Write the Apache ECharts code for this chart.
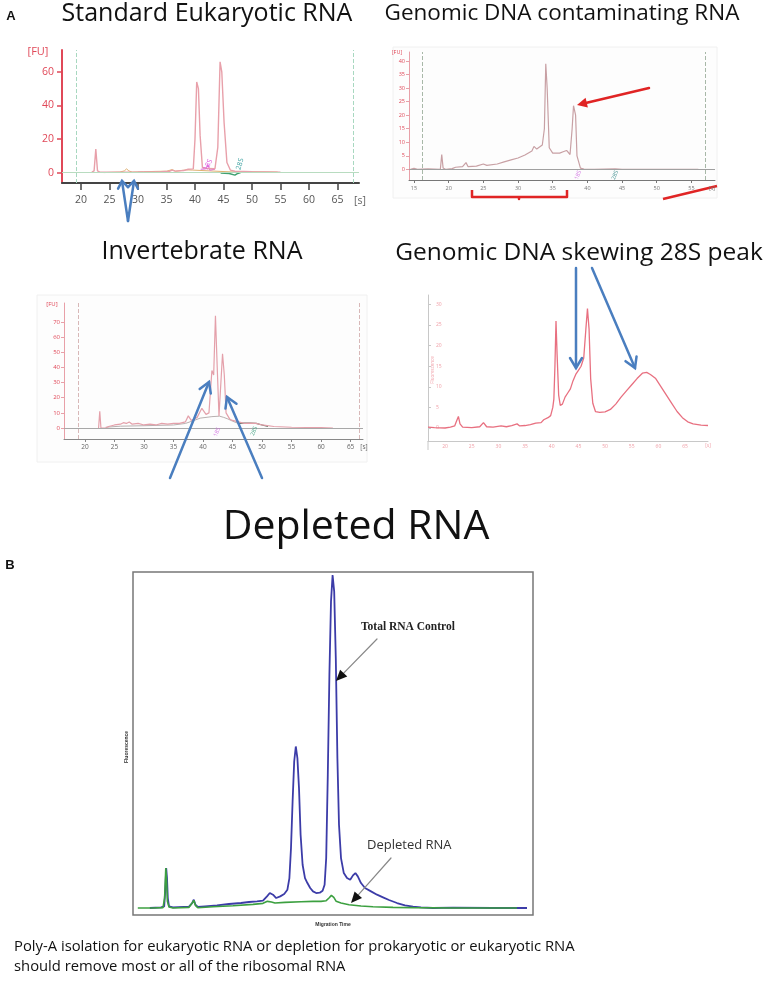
<!DOCTYPE html>
<html><head><meta charset="utf-8">
<script src="https://cdn.jsdelivr.net/npm/echarts@6/dist/echarts.min.js"></script>
<style>html,body{margin:0;padding:0;background:#fff}#c{width:767px;height:984px}</style>
</head><body><div id="c"></div>
<script>
// ---------- DATA ----------
// Panel A1: Standard Eukaryotic RNA
const p1XTicks = [20,25,30,35,40,45,50,55,60,65];
const p1YTicks = [0,20,40,60];
const p1Rna = [[21.9,0.3],[22.3,1],[22.6,14],[22.9,1],[23.3,0.3],[25,0.3],[30,0.4],[34,0.6],[35.5,0.8],[36,1.5],[36.5,0.9],[38,1.2],[38.8,2],[39.7,2.2],[40.0,20],[40.3,54],[40.6,50],[40.9,22],[41.3,3],[42,2.4],[43.5,2.3],[44.0,15],[44.4,66],[44.7,60],[45.1,30],[45.6,6],[46.2,1.5],[47,0.8],[50,0.5],[55,0.3]];
const p1Marker = [[24,0],[26.8,0.3],[27.6,1],[28,2.2],[28.4,1],[29,0.3],[31,0.5],[33,0.7],[35,0.8],[36,1.8],[36.6,0.8],[38.5,1.6],[39.5,1.5],[47,0.3],[50,0.5],[54.5,0.3]];
const p1Lower = [[41,2],[41.8,2.2],[42.3,4.5],[42.6,1.5],[43.5,2]];
const p1Upper = [[44.5,-0.3],[46,-0.5],[47,-1.5],[47.5,-0.5],[48,0]];
const p1Dashed = [19.1, 67.7];

// Panel A2: Genomic DNA contaminating RNA
const p2XTicks = [15,20,25,30,35,40,45,50,55];
const p2YTicks = [0,5,10,15,20,25,30,35,40];
const p2Trace = [[14.5,0],[15,0.4],[15.5,0],[17,0.2],[18.8,0],[19,5.5],[19.2,0.5],[19.6,0],[20.5,0.3],[21,0.8],[22,1],[22.5,2.5],[22.8,1],[24,1.2],[25,2],[25.5,1.5],[27,2],[28,2.8],[29,3.5],[30,4.2],[31,5.3],[32,6.8],[32.3,8.5],[32.7,7.5],[33.5,9],[33.8,15],[34,39],[34.2,30],[34.5,8],[35,6],[36,6],[36.5,6.5],[37,7],[37.5,5.5],[37.8,15],[38,23.5],[38.3,20],[38.5,5],[39,0.5],[39.5,0.1],[41,0],[44,0.2],[45,0],[56,0]];
const p2Dashed = [16.2, 57];

// Panel A3: Invertebrate RNA
const p3XTicks = [20,25,30,35,40,45,50,55,60,65];
const p3YTicks = [0,10,20,30,40,50,60,70];
const p3Trace = [[22.3,0],[22.5,11],[22.7,0],[23.5,0],[24,1],[25,2],[26,2.5],[26.5,3.5],[27,3],[27.5,4],[28,2.5],[29,3],[30,2],[31,2.5],[32,2],[33,3],[34,2.5],[35,3],[36,3],[37,4],[37.5,8],[38,5],[39,7],[39.8,13],[40.5,9],[41,10],[41.5,38],[41.8,35],[42.1,74],[42.4,40],[42.7,8],[43,9],[43.3,49],[43.6,35],[43.9,10],[44.5,6],[45,5],[46,4],[47,3],[48,3.2],[49,3],[50,2],[52,1],[55,0.5],[60,0.3],[62,0]];
const p3Second = [[23.5,0.5],[26,1.2],[30,1.5],[35,2],[37,3],[38.5,5],[39.5,6.5],[40.5,7],[41.5,7.5],[42.8,7.8],[43.5,7],[44.2,6],[45,4.5],[46,3]];
const p3Late = [[46,3],[47,3.2],[48,3.3],[49,3],[50,2],[51,1]];
const p3Dashed = [18.8, 66.5];

// Panel A4: Genomic DNA skewing 28S peak
const p4XTicks = [20,25,30,35,40,45,50,55,60,65];
const p4YTicks = [0,5,10,15,20,25,30];
const p4Trace = [[16.8,0.2],[18,0.1],[20,0],[21,0.2],[21.8,0.5],[22.1,1.5],[22.5,2.8],[22.8,1],[23.3,0.2],[25,0.1],[26.5,0.3],[27.2,1.3],[27.8,0.3],[29,0.2],[30.5,0.5],[31.5,0.3],[32.5,0.6],[33.5,1],[34,0.5],[35,0.6],[36,0.8],[37,1.2],[38,1.3],[38.5,2],[39.3,2.5],[39.8,3],[40.2,5],[40.4,7],[40.6,15],[40.8,26],[41,18],[41.3,8],[41.6,5.5],[42,5.8],[42.5,7.5],[43,8.5],[43.5,9.5],[44,11.5],[44.5,13],[45,14],[45.5,15],[46,17],[46.4,24],[46.7,29],[47,24],[47.3,12],[47.7,6],[48.2,4],[49,3.8],[50,3.9],[51,4.5],[52,5.8],[53,7.5],[54,9],[55,10.5],[56,12],[57,13.3],[57.8,13.5],[58.5,13],[59.5,12],[60.5,10],[61.5,8],[62.5,6],[63.5,4],[64.5,2.5],[65.5,1.5],[66.5,1],[68,0.7],[69.3,0.6]];

// Panel B: Depleted RNA (relative migration time 0-100, relative fluorescence 0-100)
const bTotalRna = [[4.2,0],[7,0.2],[7.8,0.5],[8.1,6],[8.3,12],[8.5,9],[8.7,3],[9,0.5],[10,0.2],[14,0.4],[14.8,1.5],[15.2,2.5],[15.6,1],[16.2,0.3],[18,0.5],[21,0.8],[24,1.2],[27,1.5],[29,1.8],[31,2],[32.5,2.2],[33.5,3.5],[34.2,4.5],[35,4],[35.8,3],[36.8,3.5],[37.8,4.2],[38.6,5.5],[39.1,9],[39.5,18],[39.9,32],[40.3,44],[40.7,48.5],[41.1,45],[41.5,36],[41.9,22],[42.4,13],[43,9],[43.6,7.5],[44.3,6],[45,5],[45.8,4.5],[46.7,4.6],[47.4,5.2],[47.9,7],[48.3,15],[48.7,40],[49.1,70],[49.5,92],[49.9,100],[50.3,95],[50.7,75],[51.1,45],[51.5,25],[52,15],[52.7,10.5],[53.5,9],[54.3,8.5],[55,9.8],[55.6,10.5],[56.2,9.5],[57,7.5],[58,6],[59.5,5],[61,4],[62.5,3.2],[64,2.4],[66,1.5],[68,0.8],[70,0.4],[72,0.2],[75,0],[80,0.1],[90,0],[98.5,0]];
const bDepleted = [[1.2,0],[5,0],[7.5,0.1],[7.9,3],[8.2,12],[8.4,8],[8.6,2],[9,0.3],[10,0],[14,0.2],[14.8,1.5],[15.2,2.3],[15.6,0.8],[16.2,0.1],[20,0.4],[25,0.7],[30,1.1],[32.5,1.4],[33.6,2],[34.1,2.6],[34.6,1.8],[35.5,1.5],[38,1.7],[42,1.9],[45,2],[47,2],[48.3,2.2],[49,3],[49.6,3.8],[50.2,3.2],[50.8,2],[52,1.5],[54,1],[57,0.6],[60,0.4],[65,0.2],[70,0.1],[80,0],[96,0]];

// ---------- CHART ----------
const chart = echarts.init(document.getElementById('c'), null, {renderer:'canvas'});
const OS = '"Open Sans", "Noto Sans", sans-serif';

function xAx(grid, min, max, ticks, o) {
  return {type:'value', gridIndex:grid, min, max, splitLine:{show:false},
    axisLine:{show:true, onZero:false, lineStyle:{color:o.line, width:o.lw||1}},
    axisTick:{show:o.tick!==false, customValues:ticks, length:o.tl||3, inside:!!o.tin, lineStyle:{color:o.line, width:o.tw||1}},
    axisLabel:{show:true, customValues:ticks, color:o.lc, fontSize:o.fs, fontFamily:OS, margin:o.m||4}};
}
function yAx(grid, min, max, ticks, o) {
  return {type:'value', gridIndex:grid, min, max, splitLine:{show:false},
    axisLine:{show:true, onZero:false, lineStyle:{color:o.line, width:o.lw||1}},
    axisTick:{show:true, customValues:ticks, length:o.tl||3, inside:!!o.tin, lineStyle:{color:o.line, width:o.tw||1}},
    axisLabel:{show:true, customValues:ticks, color:o.lc, fontSize:o.fs, fontFamily:OS, margin:o.m||4, inside:!!o.lin}};
}
function ln(x, y, data, color, w, extra) {
  return Object.assign({type:'line', xAxisIndex:x, yAxisIndex:y, data, showSymbol:false, symbol:'none', animation:false, silent:true,
    lineStyle:{color, width:w||1}}, extra||{});
}
function vmarks(vals, color, base) {
  const d = vals.map(v => ({xAxis:v, lineStyle:{type:'dashed', color, width:1}}));
  if (base) d.push({yAxis:0, lineStyle:{type:'solid', color:base, width:1}});
  return {silent:true, symbol:['none','none'], label:{show:false}, data:d, animation:false};
}
function txt(x, y, text, font, fill, align, va, rot) {
  return {type:'text', x, y, rotation:rot||0, silent:true, z:100,
    style:{text, font, fill, align:align||'center', verticalAlign:va||'middle'}};
}
function arrow(x1,y1,x2,y2,color,w,hl,hw,filled,headColor) {
  const dx=x2-x1, dy=y2-y1, L=Math.hypot(dx,dy), ux=dx/L, uy=dy/L;
  const bx=x2-ux*hl, by=y2-uy*hl, nx=-uy, ny=ux;
  const pts=[[bx+nx*hw,by+ny*hw],[x2,y2],[bx-nx*hw,by-ny*hw]];
  const els=[{type:'line', silent:true, z:90, shape:{x1,y1,x2:filled?bx:x2,y2:filled?by:y2}, style:{stroke:color, lineWidth:w, lineCap:'round'}}];
  if (filled) els.push({type:'polygon', silent:true, z:91, shape:{points:pts}, style:{fill:headColor||color}});
  else els.push({type:'polyline', silent:true, z:91, shape:{points:pts}, style:{stroke:color, lineWidth:w, fill:null, lineJoin:'miter', lineCap:'round'}});
  return els;
}

const BLUE = '#4a7ebf', RED = '#e02424';
const graphics = [
  {type:'rect', silent:true, z:-1, shape:{x:393,y:47,width:324,height:151}, style:{fill:'#fdfdfd', stroke:'#f0f0f0'}},
  {type:'rect', silent:true, z:-1, shape:{x:37,y:295,width:330,height:167}, style:{fill:'#fdfdfd', stroke:'#f0f0f0'}},
  {type:'line', silent:true, z:5, shape:{x1:428,y1:441,x2:428,y2:450}, style:{stroke:'#c8c8c8', lineWidth:1}},
  txt(11,16,'A','bold 13px "Liberation Sans", Arial, sans-serif','#111'),
  txt(10,565,'B','bold 13px "Liberation Sans", Arial, sans-serif','#111'),
  txt(207,14,'Standard Eukaryotic RNA','25px '+OS,'#111'),
  txt(562,14,'Genomic DNA contaminating RNA','22.5px '+OS,'#111'),
  txt(202,252,'Invertebrate RNA','25px '+OS,'#111'),
  txt(579,253,'Genomic DNA skewing 28S peak','24.5px '+OS,'#111'),
  txt(356,527,'Depleted RNA','41px '+OS,'#111'),
  txt(14,947,'Poly-A isolation for eukaryotic RNA or depletion for prokaryotic or eukaryotic RNA','14.8px '+OS,'#111','left'),
  txt(14,967,'should remove most or all of the ribosomal RNA','14.8px '+OS,'#111','left'),
  // panel A1 extras
  txt(38,52,'[FU]','11px '+OS,'#e04858'),
  txt(360,201,'[s]','10.5px '+OS,'#666'),
  txt(208,165,'18S','7px '+OS,'#e060e0','center','middle',1.1),
  txt(240,164,'28S','7px '+OS,'#3aa0a0','center','middle',1.3),
  // panel A2 extras
  txt(397,52,'[FU]','5.5px '+OS,'#e04858'),
  txt(712,188,'[s]','5.5px '+OS,'#777'),
  txt(578,175,'18S','5.5px '+OS,'#d070e0','center','middle',1.2),
  txt(615,175,'28S','5.5px '+OS,'#409090','center','middle',1.2),
  // panel A3 extras
  txt(52,304,'[FU]','6px '+OS,'#e04858'),
  txt(364,447,'[s]','6.5px '+OS,'#666'),
  txt(217,432,'18S','5.5px '+OS,'#d070e0','center','middle',1.2),
  txt(254,431,'28S','5.5px '+OS,'#40a080','center','middle',1.2),
  // panel A4 extras
  txt(433,370,'Fluorescence','4.5px '+OS,'#f0a0a8','center','middle',Math.PI/2),
  txt(708,446,'[s]','5px '+OS,'#f0a0a8'),
  // panel B extras
  txt(127,747,'Fluorescence','bold 5px "Liberation Sans", Arial, sans-serif','#333','center','middle',Math.PI/2),
  txt(333,925,'Migration Time','bold 5px "Liberation Sans", Arial, sans-serif','#333'),
  txt(361,627,'Total RNA Control','bold 11.5px "Liberation Serif", "DejaVu Serif", serif','#222','left'),
  txt(367,845,'Depleted RNA','13px '+OS,'#333','left'),
  // red bracket and line
  {type:'polyline', silent:true, z:90, shape:{points:[[472,190],[472,197],[519,197],[519,199],[519,197],[567,197],[567,190]]}, style:{stroke:RED, lineWidth:2.5, fill:null, lineJoin:'round'}},
  {type:'line', silent:true, z:90, shape:{x1:663,y1:199,x2:717,y2:186}, style:{stroke:RED, lineWidth:2.5}},
  ...arrow(649,88,577,105,RED,2.5,10,5,true),
  ...arrow(128,221,122,181,BLUE,2.5,7,5,false),
  ...arrow(128,221,134,181,BLUE,2.5,7,5,false),
  ...arrow(170,478,209,382,BLUE,2.5,10,6,false),
  ...arrow(262,478,227,397,BLUE,2.5,10,6,false),
  ...arrow(576,268,576,368,BLUE,2.5,10,6,false),
  ...arrow(592,268,635,368,BLUE,2.5,10,6,false),
  ...arrow(377,639,336,681,'#888',1.2,11,5,true,'#111'),
  ...arrow(391,858,351,903,'#888',1.2,11,5,true,'#111')
];

const option = {
  backgroundColor:'#ffffff',
  animation:false,
  grid:[
    {left:62, top:50, width:297, height:133, containLabel:false, outerBoundsMode:'none'},
    {left:409, top:52, width:306, height:128, containLabel:false, outerBoundsMode:'none'},
    {left:64, top:303, width:299, height:136, containLabel:false, outerBoundsMode:'none'},
    {left:428, top:295, width:280, height:146, containLabel:false, outerBoundsMode:'none'},
    {left:133, top:572, width:400, height:343, containLabel:false, outerBoundsMode:'none', show:true, borderColor:'#777', borderWidth:1.5, backgroundColor:'#fff'}
  ],
  xAxis:[
    xAx(0,16.67,68.77,p1XTicks,{line:'#444', lw:2, tl:7, tw:1.5, lc:'#555', fs:10.5, m:12}),
    xAx(1,14.28,58.4,p2XTicks,{line:'#777', tl:3, lc:'#777', fs:5.5, m:5}),
    xAx(2,16.44,67.1,p3XTicks,{line:'#888', tl:3, lc:'#666', fs:6.5, m:5}),
    xAx(3,16.8,69.3,p4XTicks,{line:'#c8c8c8', tl:0, tick:false, lc:'#f0a0a8', fs:5, m:3}),
    {type:'value', gridIndex:4, min:0, max:100, show:false}
  ],
  yAxis:[
    yAx(0,-6.2,73,p1YTicks,{line:'#e04858', lw:2, tl:5, tw:1.5, lc:'#e04858', fs:10.5, m:8}),
    yAx(1,-3.9,43.3,p2YTicks,{line:'#e8a0a8', tl:3, lc:'#e04858', fs:5.5, m:4}),
    yAx(2,-7.26,82.5,p3YTicks,{line:'#e8a0a8', tl:3, lc:'#e04858', fs:6, m:4}),
    yAx(3,-3.16,32.3,p4YTicks,{line:'#c8c8c8', tl:3, tin:true, lin:true, lc:'#f0a0a8', fs:5, m:8}),
    {type:'value', gridIndex:4, min:-2.1, max:100.9, show:false}
  ],
  series:[
    ln(0,0,p1Marker,'#e0b070',1),
    ln(0,0,p1Upper,'#40a070',1.5),
    ln(0,0,p1Lower,'#e070e0',1.2),
    ln(0,0,p1Rna,'#e8a0aa',1.4,{markLine:vmarks(p1Dashed,'#a8d8c0','#b8dcc0'), z:3}),
    ln(1,1,p2Trace,'#c8a0a4',1.2,{markLine:vmarks(p2Dashed,'#a8b8a8','#a0a0a0'), z:3}),
    ln(2,2,p3Second,'#b8b0b0',1),
    ln(2,2,p3Late,'#607060',1.2),
    ln(2,2,p3Trace,'#e4a0aa',1.2,{markLine:vmarks(p3Dashed,'#d8b8b8','#a8a8a8'), z:3}),
    ln(3,3,p4Trace,'#e87080',1.3),
    ln(4,4,bTotalRna,'#3c3ca8',1.8,{z:3}),
    ln(4,4,bDepleted,'#3ca040',1.6,{z:4})
  ],
  graphic:{elements:graphics}
};
chart.setOption(option);
</script></body></html>
